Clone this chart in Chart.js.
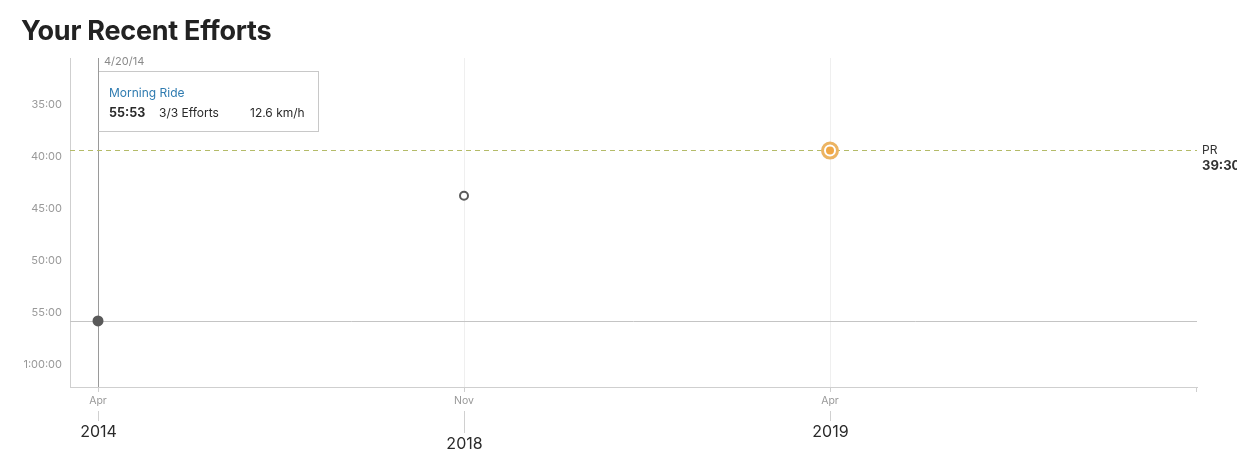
<!DOCTYPE html>
<html>
<head>
<meta charset="utf-8">
<script src="https://cdn.jsdelivr.net/npm/chart.js@4.4.1/dist/chart.umd.min.js"></script>
<style>
  html,body{margin:0;padding:0;background:#fff;}
  #wrap{position:relative;width:1237px;height:460px;overflow:hidden;}
  #title{position:absolute;left:21px;top:14px;margin:0;font-family:Inter,"Noto Sans",sans-serif;font-weight:700;font-size:27px;color:#222;letter-spacing:-0.25px;}
  canvas{position:absolute;left:0;top:0;}
</style>
</head>
<body>
<div id="wrap">
  <canvas id="c" width="1237" height="460"></canvas>
  <h1 id="title">Your Recent Efforts</h1>
</div>
<script>
// ---- data ----
const monthLabels = ['Apr', 'Nov', 'Apr'];
const yearLabels = ['2014', '2018', '2019'];
const effortSeconds = [3353, 2631, 2370];          // 55:53, 43:51, 39:30
const yTickSeconds = [2100, 2400, 2700, 3000, 3300, 3600];
const prSeconds = 2370;
const prLabel = 'PR';
const hoverIndex = 0;
const hoverDate = '4/20/14';
const hoverName = 'Morning Ride';
const hoverTime = '55:53';
const hoverEfforts = '3/3 Efforts';
const hoverSpeed = '12.6 km/h';

function fmt(s){
  const h = Math.floor(s/3600), m = Math.floor((s%3600)/60), sec = s%60;
  const mm = String(m).padStart(2,'0'), ss = String(sec).padStart(2,'0');
  return h>0 ? h+':'+mm+':'+ss : m+':'+ss;
}

const FONT = 'Inter, "Noto Sans", sans-serif';

const points = effortSeconds.map((v,i)=>({x:i,y:v}));
const prIndex = effortSeconds.indexOf(prSeconds);

const overlay = {
  id:'overlay',
  beforeDatasetsDraw(chart){
    const {ctx, chartArea:a, scales:{x,y}} = chart;
    ctx.save();
    const hx = x.getPixelForValue(hoverIndex);
    const hy = y.getPixelForValue(effortSeconds[hoverIndex]);
    ctx.lineWidth = 1;
    ctx.strokeStyle = '#c4c4c4';
    ctx.beginPath(); ctx.moveTo(a.left, Math.round(hy)+0.5); ctx.lineTo(a.right, Math.round(hy)+0.5); ctx.stroke();
    ctx.strokeStyle = '#9a9a9a';
    ctx.beginPath(); ctx.moveTo(Math.floor(hx)+0.5, a.top); ctx.lineTo(Math.floor(hx)+0.5, a.bottom); ctx.stroke();
    const py = y.getPixelForValue(prSeconds);
    ctx.strokeStyle = '#b4bb68';
    ctx.setLineDash([5,4]);
    ctx.beginPath(); ctx.moveTo(a.left, Math.floor(py)+0.5); ctx.lineTo(a.right, Math.floor(py)+0.5); ctx.stroke();
    ctx.restore();
  },
  afterDraw(chart){
    const {ctx, chartArea:a, scales:{x,y}} = chart;
    ctx.save();
    const py = y.getPixelForValue(prSeconds);
    ctx.textBaseline = 'middle';
    ctx.textAlign = 'left';
    ctx.fillStyle = '#333';
    ctx.font = '12px ' + FONT;
    ctx.fillText(prLabel, a.right + 5, py);
    ctx.font = 'bold 13px ' + FONT;
    ctx.fillText(fmt(prSeconds), a.right + 5, py + 16);

    ctx.strokeStyle = '#d0d0d0';
    ctx.lineWidth = 1;
    yearLabels.forEach((yr,i)=>{
      const px = Math.floor(x.getPixelForValue(i)) + 0.5;
      const low = (i % 2 === 1) ? 12 : 0;
      ctx.beginPath(); ctx.moveTo(px, a.bottom + 24); ctx.lineTo(px, a.bottom + 34 + low); ctx.stroke();
      ctx.fillStyle = '#2a2a2a';
      ctx.font = '16px ' + FONT;
      ctx.textAlign = 'center';
      ctx.textBaseline = 'middle';
      ctx.fillText(yr, px, a.bottom + 45 + low);
    });

    const hx = Math.floor(x.getPixelForValue(hoverIndex));
    const bx = hx + 0.5, by = a.top + 13.5, bw = 220, bh = 60;
    ctx.fillStyle = '#fff';
    ctx.fillRect(bx, by, bw, bh);
    ctx.strokeStyle = '#c8c8c8';
    ctx.strokeRect(bx, by, bw, bh);
    ctx.strokeStyle = '#9a9a9a';
    ctx.beginPath(); ctx.moveTo(bx, a.top); ctx.lineTo(bx, by + bh); ctx.stroke();
    ctx.textAlign = 'left';
    ctx.textBaseline = 'middle';
    ctx.fillStyle = '#8a8a8a';
    ctx.font = '11px ' + FONT;
    ctx.fillText(hoverDate, hx + 6, a.top + 4);
    ctx.fillStyle = '#2f7bb0';
    ctx.font = '12px ' + FONT;
    ctx.fillText(hoverName, hx + 11, by + 21.5);
    ctx.fillStyle = '#2a2a2a';
    ctx.font = 'bold 12.5px ' + FONT;
    ctx.fillText(hoverTime, hx + 11, by + 41.5);
    ctx.font = '12px ' + FONT;
    ctx.fillText(hoverEfforts, hx + 61, by + 41.5);
    ctx.fillText(hoverSpeed, hx + 152, by + 41.5);
    ctx.restore();
  }
};

new Chart(document.getElementById('c'), {
  type: 'scatter',
  data: {
    datasets: [
      {
        data: points,
        showLine: false,
        pointRadius: effortSeconds.map((v,i)=> i===prIndex ? 7.5 : (i===hoverIndex ? 5.5 : 4)),
        pointBackgroundColor: effortSeconds.map((v,i)=> i===prIndex ? '#ffffff' : (i===hoverIndex ? '#5a5a5a' : '#ffffff')),
        pointBorderColor: effortSeconds.map((v,i)=> i===prIndex ? '#ecb462' : '#5a5a5a'),
        pointBorderWidth: effortSeconds.map((v,i)=> i===prIndex ? 3 : (i===hoverIndex ? 0 : 2)),
        order: 2
      },
      {
        data: [{x: prIndex, y: prSeconds}],
        showLine: false,
        pointRadius: 4,
        pointBackgroundColor: '#f0a744',
        pointBorderWidth: 0,
        order: 1
      }
    ]
  },
  options: {
    responsive: false,
    animation: false,
    events: [],
    layout: { padding: { top: 58, right: 40, left: 0, bottom: 0 } },
    plugins: { legend: { display: false }, tooltip: { enabled: false }, title: { display: false } },
    scales: {
      x: {
        type: 'linear',
        min: -28/366,
        max: 1099/366,
        afterBuildTicks(s){ s.ticks = [0,1,2,3].map(v=>({value:v})); },
        afterFit(s){ s.height = 73; },
        grid: {
          color: ctx => (ctx.tick && ctx.tick.value < monthLabels.length && ctx.tick.value !== hoverIndex) ? '#efefef' : 'rgba(0,0,0,0)',
          tickColor: '#cfcfcf',
          tickLength: 5,
          drawOnChartArea: true
        },
        border: { display: true, color: '#cfcfcf' },
        ticks: {
          autoSkip: false,
          maxRotation: 0,
          padding: 3,
          color: '#999',
          font: { family: FONT, size: 10.5 },
          callback: v => monthLabels[v] !== undefined ? monthLabels[v] : ''
        }
      },
      y: {
        type: 'linear',
        reverse: true,
        min: 1836,
        max: 3734,
        afterBuildTicks(s){ s.ticks = yTickSeconds.map(v=>({value:v})); },
        afterFit(s){ s.width = 70; },
        grid: { display: false, drawTicks: false },
        border: { display: true, color: '#cfcfcf' },
        ticks: {
          padding: 8,
          labelOffset: 1,
          color: '#999',
          font: { family: FONT, size: 11 },
          callback: v => fmt(v)
        }
      }
    }
  },
  plugins: [overlay]
});
</script>
</body>
</html>
